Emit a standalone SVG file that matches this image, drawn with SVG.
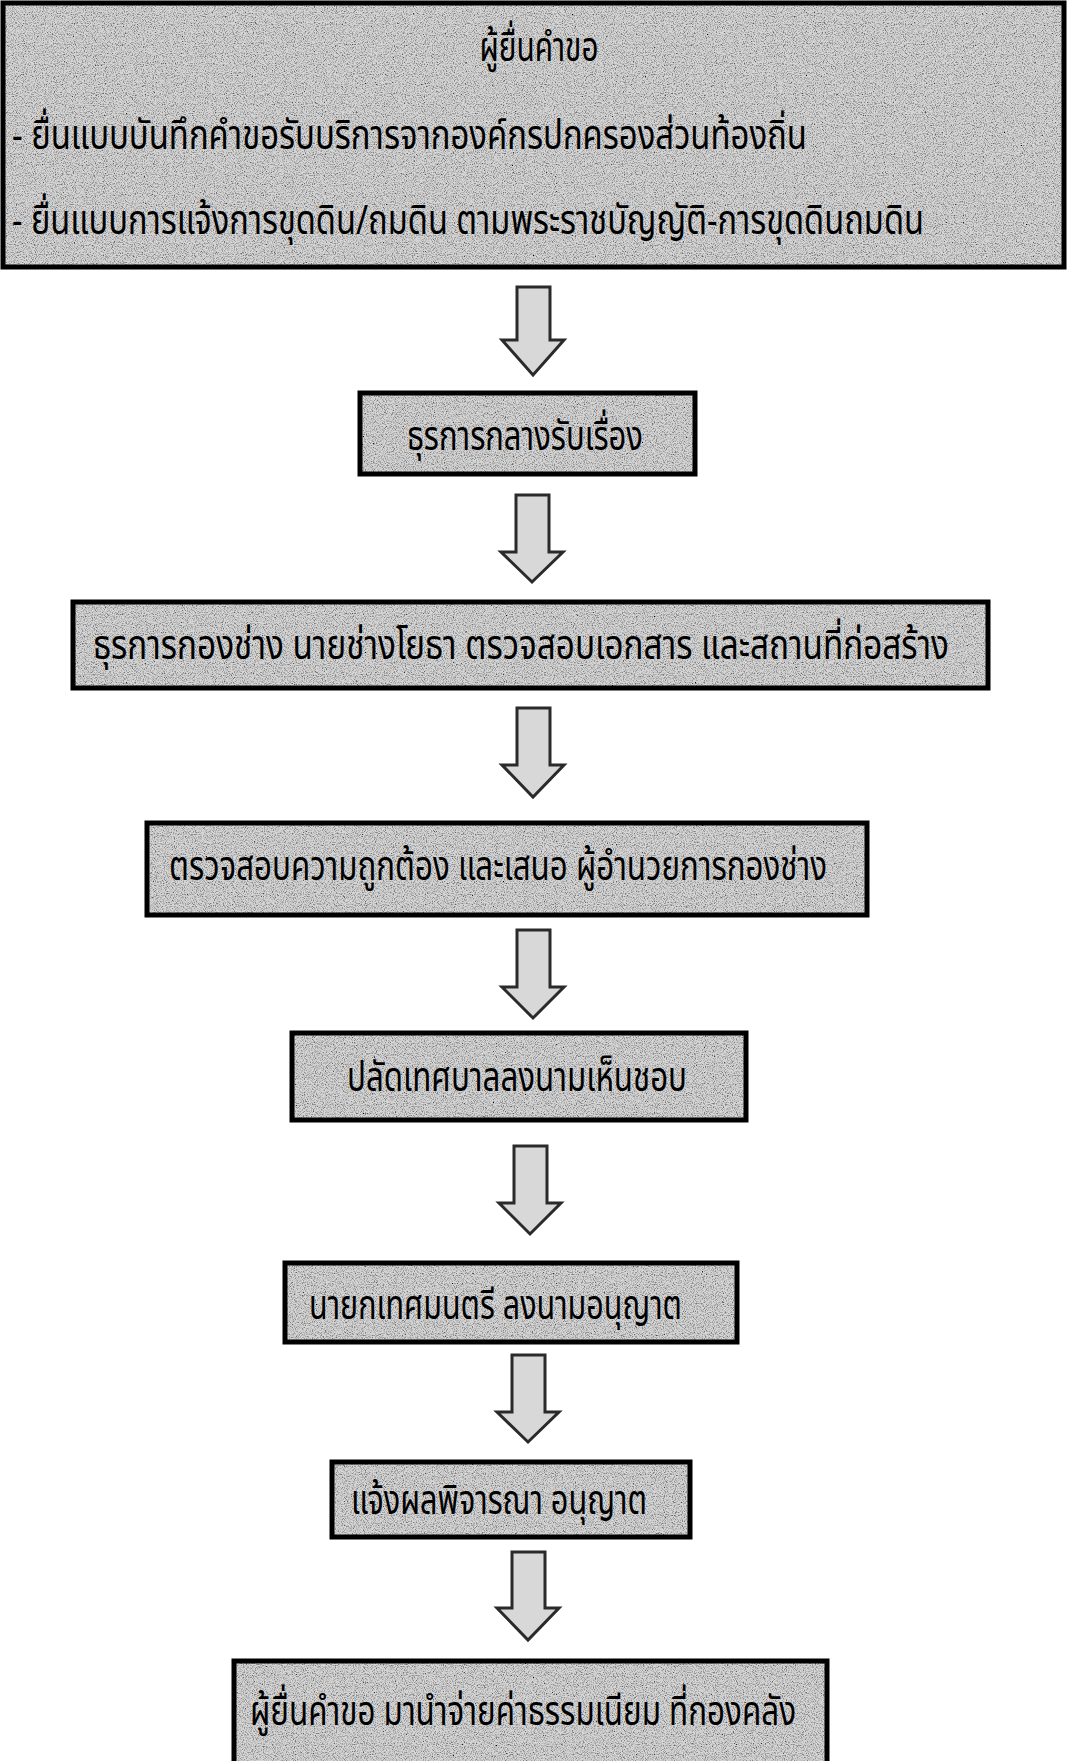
<svg xmlns="http://www.w3.org/2000/svg" width="1067" height="1761" viewBox="0 0 1067 1761">
<style>
.box{fill:#d6d6d6;filter:url(#grain)}
.edge{fill:none;stroke:#000;stroke-width:5}
.t{font-family:"Noto Sans Thai","Noto Sans","DejaVu Sans",sans-serif;font-size:33px;fill:#000}
.arr{fill:#d8d8d8;stroke:#2a2a2a;stroke-width:3;stroke-linejoin:miter}
</style>
<defs>
<filter id="grain" x="0" y="0" width="1" height="1" filterUnits="objectBoundingBox">
<feTurbulence type="fractalNoise" baseFrequency="0.9" numOctaves="2" seed="7" result="n"/>
<feColorMatrix in="n" type="matrix" values="0 0 0 0 0  0 0 0 0 0  0 0 0 0 0  2.2 0 0 0 -0.95" result="dots"/>
<feComposite in="dots" in2="SourceGraphic" operator="in" result="d2"/>
<feMerge><feMergeNode in="SourceGraphic"/><feMergeNode in="d2"/></feMerge>
</filter>
</defs>
<rect width="1067" height="1761" fill="#fff"/>
<g id="connectors">
<path class="arr" d="M517,287 H550 V340 H564 L533,375 L502,340 H517 Z"/>
<path class="arr" d="M516,495 H549 V552 H563 L532,582 L501,552 H516 Z"/>
<path class="arr" d="M517,708 H550 V765 H564 L533,797 L502,765 H517 Z"/>
<path class="arr" d="M517,930 H550 V987 H564 L533,1018 L502,987 H517 Z"/>
<path class="arr" d="M514,1146 H547 V1203 H561 L530,1234 L499,1203 H514 Z"/>
<path class="arr" d="M512,1355 H545 V1412 H559 L528,1442 L497,1412 H512 Z"/>
<path class="arr" d="M512,1552 H545 V1608 H559 L528,1640 L497,1608 H512 Z"/>
</g>
<g id="n1">
<rect class="box" x="3" y="3" width="1061" height="264"/>
<rect class="edge" x="3" y="3" width="1061" height="264"/>
<text class="t" transform="translate(539,61) scale(1,1.22)" text-anchor="middle" textLength="119" lengthAdjust="spacingAndGlyphs">ผู้ยื่นคำขอ</text>
<text class="t" transform="translate(12,149) scale(1,1.22)" textLength="795" lengthAdjust="spacingAndGlyphs">- ยื่นแบบบันทึกคำขอรับบริการจากองค์กรปกครองส่วนท้องถิ่น</text>
<text class="t" transform="translate(12,234) scale(1,1.22)" textLength="912" lengthAdjust="spacingAndGlyphs">- ยื่นแบบการแจ้งการขุดดิน/ถมดิน ตามพระราชบัญญัติ-การขุดดินถมดิน</text>
</g>
<g id="n2">
<rect class="box" x="360" y="393" width="335" height="81"/>
<rect class="edge" x="360" y="393" width="335" height="81"/>
<text class="t" transform="translate(525,450) scale(1,1.22)" text-anchor="middle" textLength="236" lengthAdjust="spacingAndGlyphs">ธุรการกลางรับเรื่อง</text>
</g>
<g id="n3">
<rect class="box" x="73" y="602" width="915" height="86"/>
<rect class="edge" x="73" y="602" width="915" height="86"/>
<text class="t" transform="translate(93,659) scale(1,1.22)" textLength="856" lengthAdjust="spacingAndGlyphs">ธุรการกองช่าง นายช่างโยธา  ตรวจสอบเอกสาร และสถานที่ก่อสร้าง</text>
</g>
<g id="n4">
<rect class="box" x="147" y="823" width="720" height="92"/>
<rect class="edge" x="147" y="823" width="720" height="92"/>
<text class="t" transform="translate(169,880) scale(1,1.22)" textLength="658" lengthAdjust="spacingAndGlyphs">ตรวจสอบความถูกต้อง และเสนอ ผู้อำนวยการกองช่าง</text>
</g>
<g id="n5">
<rect class="box" x="292" y="1033" width="454" height="87"/>
<rect class="edge" x="292" y="1033" width="454" height="87"/>
<text class="t" transform="translate(347,1091) scale(1,1.22)" textLength="340" lengthAdjust="spacingAndGlyphs">ปลัดเทศบาลลงนามเห็นชอบ</text>
</g>
<g id="n6">
<rect class="box" x="285" y="1263" width="452" height="79"/>
<rect class="edge" x="285" y="1263" width="452" height="79"/>
<text class="t" transform="translate(309,1319) scale(1,1.22)" textLength="373" lengthAdjust="spacingAndGlyphs">นายกเทศมนตรี ลงนามอนุญาต</text>
</g>
<g id="n7">
<rect class="box" x="332" y="1462" width="358" height="75"/>
<rect class="edge" x="332" y="1462" width="358" height="75"/>
<text class="t" transform="translate(351,1514) scale(1,1.22)" textLength="296" lengthAdjust="spacingAndGlyphs">แจ้งผลพิจารณา อนุญาต</text>
</g>
<g id="n8">
<rect class="box" x="234" y="1661" width="593" height="120"/>
<rect class="edge" x="234" y="1661" width="593" height="120"/>
<text class="t" transform="translate(250,1725) scale(1,1.22)" textLength="546" lengthAdjust="spacingAndGlyphs">ผู้ยื่นคำขอ มานำจ่ายค่าธรรมเนียม ที่กองคลัง</text>
</g>
</svg>
